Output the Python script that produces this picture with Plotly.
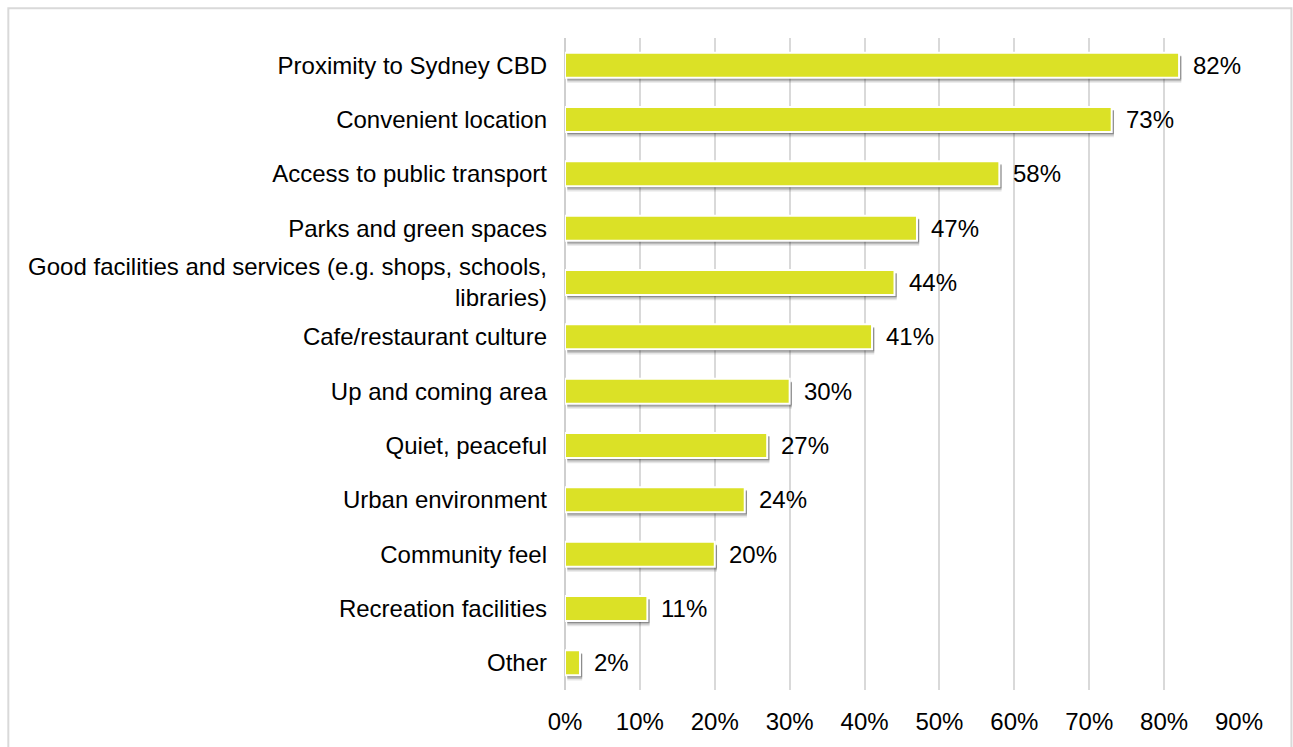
import plotly.graph_objects as go

# Survey results: reasons for choosing the area (% of respondents)
categories = [
    "Proximity to Sydney CBD",
    "Convenient location",
    "Access to public transport",
    "Parks and green spaces",
    "Good facilities and services (e.g. shops, schools,<br>libraries)",
    "Cafe/restaurant culture",
    "Up and coming area",
    "Quiet, peaceful",
    "Urban environment",
    "Community feel",
    "Recreation facilities",
    "Other",
]
values = [82, 73, 58, 47, 44, 41, 30, 27, 24, 20, 11, 2]
tick_vals = [0, 10, 20, 30, 40, 50, 60, 70, 80, 90]
tick_text = [f"{v}%" for v in tick_vals]

FONT = "Liberation Sans, Arial, sans-serif"
FS = 24
BAR_W = 0.46

fig = go.Figure()

# soft drop shadow under each bar (layered translucent copies)
for shift, alpha, grow in [(0.085, 0.10, 0.02), (0.065, 0.18, 0.0), (0.045, 0.25, -0.02)]:
    fig.add_trace(go.Bar(
        y=categories, x=values, base=0.3, orientation="h",
        width=BAR_W + grow, offset=-BAR_W / 2 + shift - grow / 2,
        marker=dict(color=f"rgba(0,0,0,{alpha})", line=dict(width=0)),
        hoverinfo="skip", showlegend=False,
    ))

fig.add_trace(go.Bar(
    y=categories, x=values, orientation="h",
    width=BAR_W, offset=-BAR_W / 2,
    marker=dict(color="#dbe126", line=dict(color="white", width=2)),
    showlegend=False,
))

# value labels to the right of each bar
for cat, val in zip(categories, values):
    fig.add_annotation(
        x=val, y=cat, text=f"{val}%", showarrow=False,
        xanchor="left", yanchor="middle", xshift=12,
        font=dict(family=FONT, size=FS, color="black"),
    )

L, R, T, B = 564.5, 53.5, 38, 54
PW = 1293 - L - R
PH = 747 - T - B

# outer chart border
fig.add_shape(
    type="rect", xref="paper", yref="paper",
    x0=(7 - L) / PW, x1=(1292 - L) / PW,
    y0=-(760 - (747 - B)) / PH, y1=1 + (T - 8) / PH,
    line=dict(color="#d9d9d9", width=2), fillcolor="rgba(0,0,0,0)",
    layer="below",
)

fig.update_layout(
    width=1293, height=747,
    margin=dict(l=L, r=R, t=T, b=B, pad=0),
    barmode="overlay",
    paper_bgcolor="white", plot_bgcolor="white",
    font=dict(family=FONT, size=FS, color="black"),
    xaxis=dict(
        range=[0, 90], tickvals=tick_vals, ticktext=tick_text,
        showgrid=True, gridcolor="#d9d9d9", gridwidth=1.5,
        zeroline=True, zerolinecolor="#cfcfcf", zerolinewidth=2,
        showline=False, ticks="", ticklabelstandoff=15,
        tickfont=dict(family=FONT, size=FS, color="black"),
        fixedrange=True,
    ),
    yaxis=dict(
        autorange="reversed", showgrid=False, showline=False,
        ticks="", ticklabelstandoff=17,
        tickfont=dict(family=FONT, size=FS, color="black"),
        fixedrange=True,
    ),
)

fig.write_html("out.html")
